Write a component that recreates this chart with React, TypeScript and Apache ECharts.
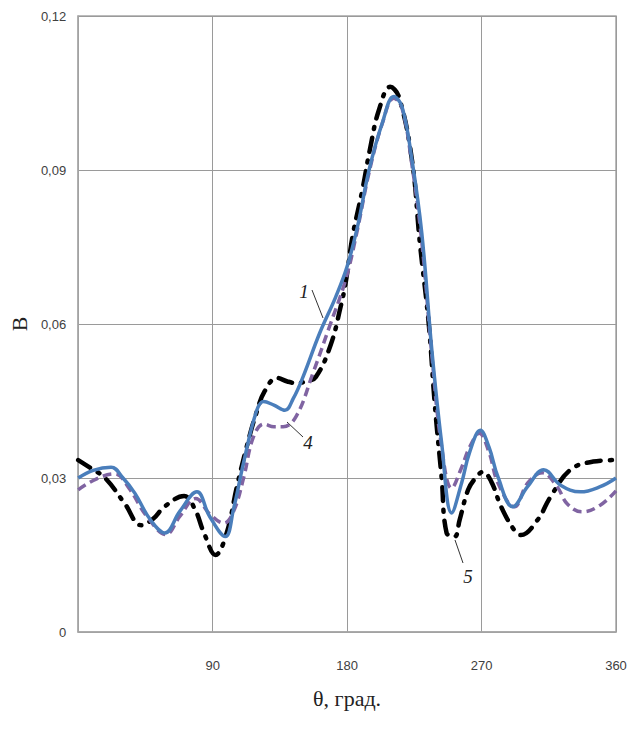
import React, { useEffect, useRef } from "react";
import * as echarts from "echarts";

// curve 1 (solid blue): [angle, value]
const curve1: [number, number][] = [
  [0, 0.030], [10, 0.0315], [22, 0.0321], [30, 0.030], [38, 0.027], [48, 0.022], [58, 0.0193],
  [68, 0.0235], [79.5, 0.0273], [88, 0.0225], [98.5, 0.0186], [104, 0.024], [110.7, 0.033],
  [119.3, 0.043], [124, 0.0449], [131, 0.0442], [138.4, 0.0432], [144, 0.0455], [150.5, 0.0497],
  [161.6, 0.0582], [172.4, 0.0653], [180, 0.0712], [187, 0.079], [194.7, 0.090], [203.5, 0.0991],
  [211.3, 0.1043], [216.8, 0.1023], [223.4, 0.092], [230, 0.0777], [236.7, 0.055], [243.3, 0.0368],
  [250, 0.0232], [256.6, 0.029], [262, 0.035], [269.2, 0.0393], [275, 0.036], [281, 0.0302],
  [290.9, 0.0244], [300.8, 0.0283], [311.6, 0.0316], [322.9, 0.0286], [336.2, 0.0273],
  [349.4, 0.0283], [360, 0.030],
];

// curve 4 (dashed purple)
const curve4: [number, number][] = [
  [0, 0.0277], [12, 0.0298], [24.5, 0.0308], [34, 0.028], [46, 0.0225], [58.8, 0.019],
  [68, 0.0225], [78.7, 0.026], [88, 0.023], [97.5, 0.0212], [104, 0.0235], [110.7, 0.030],
  [117.3, 0.038], [124.4, 0.0405], [131, 0.040], [137.2, 0.040], [145.9, 0.042], [157.1, 0.0504],
  [168.2, 0.0595], [179, 0.0686], [187, 0.0785], [194.7, 0.0895], [203.5, 0.099], [211.3, 0.104],
  [216.8, 0.102], [223.4, 0.091], [230, 0.076], [236.7, 0.054], [243.3, 0.036], [250, 0.028],
  [256.6, 0.032], [262, 0.036], [268.5, 0.0387], [275, 0.035], [281, 0.029], [292, 0.0244],
  [300.8, 0.029], [310.6, 0.031], [320.6, 0.0283], [327.3, 0.025], [337.3, 0.0234],
  [349.4, 0.0247], [360, 0.0275],
];

// curve 5 (dash-dot black)
const curve5: [number, number][] = [
  [0, 0.0335], [8, 0.032], [18, 0.030], [31.2, 0.025], [42.2, 0.0208], [50, 0.022],
  [57.7, 0.0244], [70.9, 0.0265], [78, 0.024], [84.2, 0.0193], [91.9, 0.015], [99.4, 0.0193],
  [106, 0.028], [112.7, 0.036], [119.3, 0.0427], [125, 0.047], [133, 0.0495], [140, 0.0488],
  [145.9, 0.0485], [152, 0.0488], [159.1, 0.0497], [169.1, 0.056], [175.7, 0.0634],
  [179, 0.068], [183.6, 0.077], [190.2, 0.0861], [195.6, 0.0945], [201.3, 0.1017],
  [208.8, 0.1062], [214.6, 0.1043], [223.4, 0.092], [228.7, 0.0758], [234.6, 0.0602],
  [238.8, 0.044], [243.3, 0.030], [246.6, 0.0193], [252, 0.0186], [255.3, 0.0218],
  [261, 0.0277], [266, 0.030], [271, 0.0312], [276.5, 0.0293], [283.1, 0.0244], [291.8, 0.0199],
  [296.4, 0.0189], [307.4, 0.0218], [316.3, 0.0264], [329.5, 0.0316], [344.8, 0.0332],
  [360, 0.0335],
];

const xTicks = [0, 90, 180, 270, 360];
const yTicks = [0, 0.03, 0.06, 0.09, 0.12];

export default function App() {
  const ref = useRef<HTMLDivElement>(null);
  useEffect(() => {
    if (!ref.current) return;
    const chart = echarts.init(ref.current, undefined, { renderer: "svg" });
    const labelFont = { fontFamily: "Liberation Sans", fontSize: 13, color: "#404040" };
    const curveLabel = (x: number, y: number, t: string) => ({
      type: "text",
      x,
      y,
      style: {
        text: t,
        font: "italic 19px 'Liberation Serif'",
        fill: "#222",
        textAlign: "center",
        textVerticalAlign: "middle",
      },
    });
    const leader = (x1: number, y1: number, x2: number, y2: number) => ({
      type: "line",
      shape: { x1, y1, x2, y2 },
      style: { stroke: "#333", lineWidth: 1 },
    });
    chart.setOption({
      animation: false,
      backgroundColor: "#fff",
      grid: {
        left: 73,
        right: 23,
        top: 16,
        bottom: 101,
        show: true,
        borderColor: "#a6a6a6",
        borderWidth: 1.5,
      },
      xAxis: {
        type: "value",
        min: xTicks[0],
        max: xTicks[xTicks.length - 1],
        interval: 90,
        name: "θ, град.",
        nameLocation: "middle",
        nameGap: 55,
        nameTextStyle: { fontFamily: "Liberation Serif", fontSize: 22, color: "#222" },
        axisLine: { show: true, lineStyle: { color: "#a6a6a6", width: 1.5 } },
        axisTick: { show: false },
        axisLabel: {
          ...labelFont,
          margin: 27,
          formatter: (v: number) => (v === 0 ? "" : String(v)),
        },
        splitLine: { show: true, lineStyle: { color: "#9a9a9a", width: 1 } },
      },
      yAxis: {
        type: "value",
        min: yTicks[0],
        max: yTicks[yTicks.length - 1],
        interval: 0.03,
        name: "B",
        nameLocation: "middle",
        nameGap: 48,
        nameTextStyle: { fontFamily: "Liberation Serif", fontSize: 22, color: "#222" },
        axisLine: { show: true, lineStyle: { color: "#a6a6a6", width: 1.5 } },
        axisTick: { show: false },
        axisLabel: {
          ...labelFont,
          margin: 12,
          formatter: (v: number) => (v === 0 ? "0" : v.toFixed(2).replace(".", ",")),
        },
        splitLine: { show: true, lineStyle: { color: "#9a9a9a", width: 1 } },
      },
      series: [
        {
          type: "line",
          name: "5",
          data: curve5,
          smooth: 0.4,
          showSymbol: false,
          z: 3,
          lineStyle: { color: "#000", width: 4.5, type: [14, 9, 2, 9], cap: "round" },
        },
        {
          type: "line",
          name: "4",
          data: curve4,
          smooth: 0.4,
          showSymbol: false,
          z: 4,
          lineStyle: { color: "#8064a2", width: 3.5, type: [9, 5] },
        },
        {
          type: "line",
          name: "1",
          data: curve1,
          smooth: 0.4,
          showSymbol: false,
          z: 5,
          lineStyle: { color: "#4a7ebb", width: 3.5 },
        },
      ],
      graphic: [
        curveLabel(304, 291, "1"),
        leader(312, 290, 323, 318),
        curveLabel(308, 442, "4"),
        leader(287, 422, 303, 437),
        curveLabel(468, 576, "5"),
        leader(455, 540, 463, 563),
      ],
    });
    return () => chart.dispose();
  }, []);
  return (
    <div
      ref={ref}
      style={{ position: "fixed", left: 0, top: 0, width: 639, height: 733 }}
    />
  );
}
